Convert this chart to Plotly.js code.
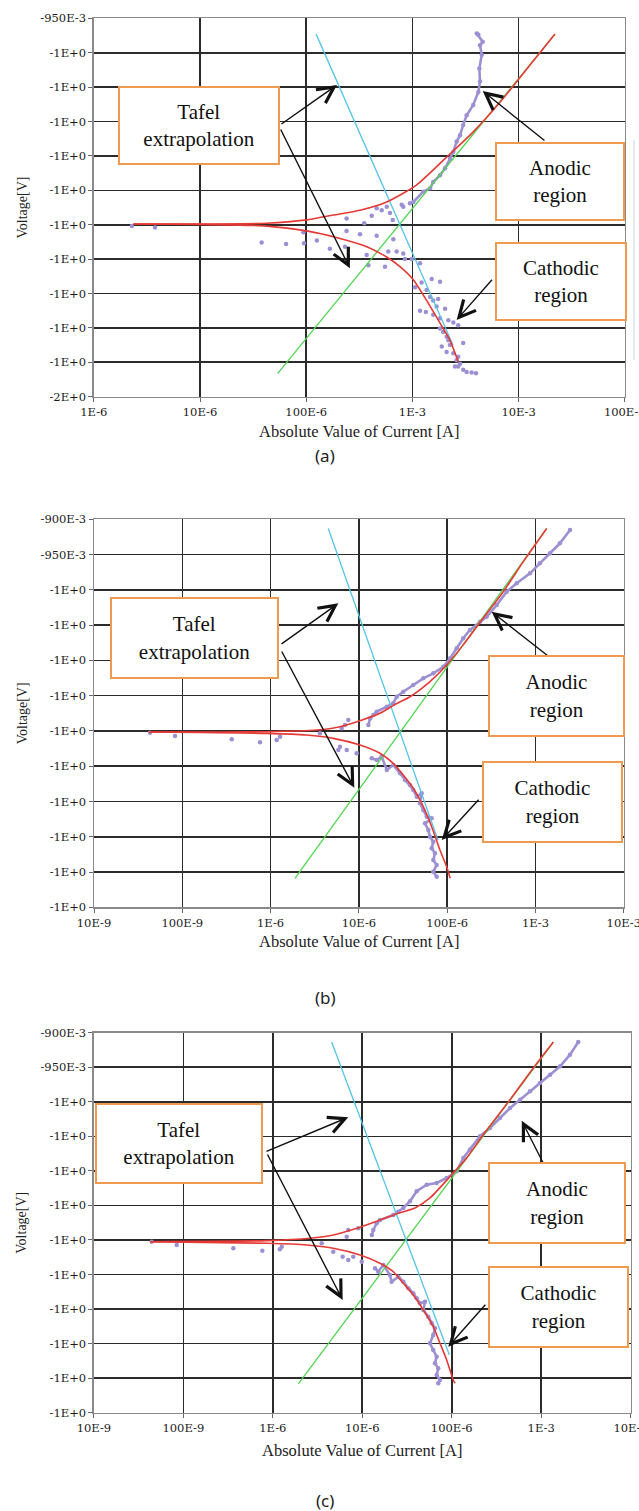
<!DOCTYPE html>
<html><head><meta charset="utf-8">
<script src="https://cdn.plot.ly/plotly-3.0.1.min.js"></script>
<style>html,body{margin:0;padding:0;background:#fff;}#plot{width:639px;height:1511px;}</style>
</head><body><div id="plot"></div>
<script>
// ---------------- DATA (current in A, voltage in V) ----------------
// Panel (a)
const aCyanI = [1.24e-4, 2.41e-3];
const aCyanV = [-0.973, -1.425];
const aGreenI = [5.40e-5, 2.20e-2];
const aGreenV = [-1.466, -0.973];
const aRedAnodI = [2.36e-6, 1.00e-5, 4.25e-5, 1.01e-4, 1.80e-4, 3.21e-4, 5.73e-4, 1.10e-3, 2.03e-3, 3.74e-3, 6.68e-3, 1.19e-2, 2.20e-2];
const aRedAnodV = [-1.249, -1.249, -1.248, -1.243, -1.236, -1.229, -1.217, -1.192, -1.154, -1.115, -1.072, -1.024, -0.973];
const aRedCathI = [2.36e-6, 1.00e-5, 4.25e-5, 1.01e-4, 2.08e-4, 3.72e-4, 5.73e-4, 7.64e-4, 1.02e-3, 1.36e-3, 1.82e-3, 2.26e-3, 2.70e-3];
const aRedCathV = [-1.249, -1.2495, -1.252, -1.259, -1.270, -1.282, -1.297, -1.311, -1.330, -1.360, -1.393, -1.418, -1.449];
const aDotsI = [2.28e-6, 3.77e-6, 3.81e-5, 6.46e-5, 9.40e-5, 9.53e-5, 1.26e-4, 1.67e-4, 2.40e-4, 2.40e-4, 2.32e-4, 3.21e-4, 3.52e-4, 3.71e-4, 3.85e-4, 4.14e-4, 4.61e-4, 5.14e-4, 5.52e-4, 5.93e-4, 6.15e-4, 6.53e-4, 6.61e-4, 7.11e-4, 7.93e-4, 8.20e-4, 8.51e-4, 9.49e-4, 9.85e-4, 1.06e-3, 1.18e-3, 1.22e-3, 1.36e-3, 1.52e-3, 1.82e-3, 1.47e-3, 1.57e-3, 1.75e-3, 1.69e-3, 1.18e-3, 1.34e-3, 2.03e-3, 1.57e-3, 1.82e-3, 2.18e-3, 2.43e-3, 2.70e-3, 1.82e-3, 1.95e-3, 2.10e-3, 2.18e-3, 2.26e-3, 3.01e-3, 1.89e-3, 2.10e-3, 2.43e-3, 2.70e-3, 2.61e-3, 2.81e-3, 2.70e-3, 3.01e-3, 3.24e-3, 3.61e-3, 3.97e-3, 2.52e-3, 4.61e-4, 5.73e-4, 8.20e-4];
const aDotsV = [-1.252, -1.254, -1.276, -1.278, -1.261, -1.277, -1.273, -1.285, -1.241, -1.259, -1.282, -1.264, -1.248, -1.294, -1.309, -1.237, -1.266, -1.229, -1.311, -1.289, -1.233, -1.243, -1.271, -1.289, -1.221, -1.292, -1.300, -1.219, -1.300, -1.341, -1.306, -1.334, -1.345, -1.329, -1.333, -1.355, -1.360, -1.358, -1.369, -1.375, -1.377, -1.372, -1.381, -1.386, -1.389, -1.392, -1.396, -1.401, -1.406, -1.413, -1.418, -1.425, -1.422, -1.427, -1.435, -1.437, -1.442, -1.447, -1.452, -1.456, -1.461, -1.464, -1.465, -1.466, -1.456, -1.226, -1.224, -1.224];
const aDenseI = [1.02e-3, 1.27e-3, 1.47e-3, 1.57e-3, 1.82e-3, 2.03e-3, 2.26e-3, 2.43e-3, 2.61e-3, 2.81e-3, 3.01e-3, 3.24e-3, 3.74e-3, 4.18e-3, 4.33e-3, 4.27e-3, 4.50e-3, 4.33e-3, 4.59e-3, 4.18e-3, 4.04e-3];
const aDenseV = [-1.217, -1.202, -1.197, -1.188, -1.178, -1.168, -1.154, -1.144, -1.129, -1.120, -1.105, -1.091, -1.076, -1.057, -1.042, -1.023, -1.003, -0.989, -0.984, -0.974, -0.972];

// Panel (b)
const bCyanI = [4.50e-6, 7.87e-5];
const bCyanV = [-0.913, -1.355];
const bGreenI = [1.89e-6, 1.34e-3];
const bGreenV = [-1.409, -0.913];
const bRedAnodI = [4.20e-8, 9.04e-7, 3.33e-6, 6.11e-6, 1.03e-5, 1.73e-5, 2.56e-5, 3.79e-5, 6.38e-5, 9.87e-5, 1.52e-4, 2.56e-4, 4.32e-4, 7.28e-4, 1.34e-3];
const bRedAnodV = [-1.2015, -1.2011, -1.1987, -1.194, -1.1855, -1.175, -1.1625, -1.1515, -1.130, -1.1065, -1.078, -1.040, -1.0026, -0.960, -0.913];
const bRedCathI = [4.20e-8, 9.04e-7, 2.56e-6, 5.13e-6, 1.03e-5, 1.73e-5, 2.45e-5, 3.18e-5, 4.13e-5, 5.36e-5, 6.67e-5, 8.28e-5, 9.87e-5, 1.08e-4];
const bRedCathV = [-1.2015, -1.2034, -1.2058, -1.2105, -1.220, -1.2317, -1.2459, -1.2625, -1.2813, -1.3074, -1.3358, -1.3688, -1.3925, -1.4089];
const bDotsI = [4.31e-8, 8.27e-8, 3.63e-7, 7.59e-7, 1.17e-6, 1.28e-6, 3.62e-6, 6.38e-6, 6.96e-6, 7.59e-6, 9.44e-6, 6.11e-6, 7.28e-6, 5.85e-6];
const bDotsV = [-1.2025, -1.2072, -1.2119, -1.2161, -1.2129, -1.2082, -1.2034, -1.1963, -1.1916, -1.1845, -1.2317, -1.2224, -1.227, -1.227];
const bAnodI = [1.28e-5, 1.34e-5, 1.46e-5, 1.59e-5, 2.07e-5, 2.45e-5, 2.68e-5, 3.18e-5, 4.13e-5, 5.36e-5, 6.96e-5, 9.04e-5, 1.08e-4, 1.28e-4, 1.52e-4, 1.81e-4, 2.35e-4, 2.80e-4, 3.64e-4, 4.72e-4, 6.12e-4, 8.67e-4, 1.12e-3, 1.46e-3, 1.89e-3, 2.46e-3];
const bAnodV = [-1.1916, -1.1821, -1.1774, -1.1727, -1.1657, -1.1608, -1.1515, -1.1444, -1.1349, -1.1254, -1.1183, -1.109, -1.097, -1.0829, -1.0687, -1.0569, -1.0452, -1.0381, -1.0215, -1.0026, -0.9907, -0.9766, -0.9624, -0.9482, -0.934, -0.9152];
const bCathI = [1.40e-5, 1.59e-5, 1.81e-5, 2.07e-5, 2.45e-5, 2.92e-5, 3.33e-5, 3.79e-5, 4.13e-5, 4.52e-5, 5.14e-5, 4.92e-5, 5.36e-5, 5.86e-5, 6.67e-5, 5.61e-5, 6.11e-5, 6.38e-5, 6.96e-5, 6.67e-5, 7.27e-5, 6.96e-5, 7.60e-5, 6.96e-5, 7.60e-5];
const bCathV = [-1.2388, -1.2412, -1.2365, -1.2554, -1.2483, -1.2601, -1.2696, -1.2767, -1.2837, -1.2932, -1.2884, -1.3026, -1.3121, -1.3216, -1.3239, -1.331, -1.3405, -1.35, -1.357, -1.3664, -1.3735, -1.383, -1.3901, -1.3996, -1.4066];

// Panel (c)
const cCyanI = [4.55e-6, 9.42e-5];
const cCyanV = [-0.9135, -1.3664];
const cGreenI = [1.93e-6, 1.37e-3];
const cGreenV = [-1.4084, -0.9135];
const cRedAnodI = [4.24e-8, 8.55e-7, 2.61e-6, 4.74e-6, 8.67e-6, 1.58e-5, 2.64e-5, 3.89e-5, 5.72e-5, 1.00e-4, 1.47e-4, 2.25e-4, 4.49e-4, 8.17e-4, 1.37e-3];
const cRedAnodV = [-1.2025, -1.201, -1.1975, -1.1928, -1.1831, -1.1711, -1.1605, -1.1537, -1.1392, -1.1055, -1.0813, -1.0476, -0.997, -0.9511, -0.9135];
const cRedCathI = [4.24e-8, 8.55e-7, 2.39e-6, 4.74e-6, 9.44e-6, 1.58e-5, 2.22e-5, 2.88e-5, 3.72e-5, 4.82e-5, 6.22e-5, 7.40e-5, 8.79e-5, 1.04e-4, 1.09e-4];
const cRedCathV = [-1.2025, -1.2048, -1.2072, -1.212, -1.2217, -1.2337, -1.2459, -1.2627, -1.2796, -1.3013, -1.3255, -1.3495, -1.3737, -1.4026, -1.4074];
const cDotsI = [4.43e-8, 8.43e-8, 3.62e-7, 7.64e-7, 1.20e-6, 1.26e-6, 3.52e-6, 4.74e-6, 6.04e-6, 6.98e-6, 7.94e-6, 9.86e-6, 6.70e-6, 6.98e-6, 9.04e-6];
const cDotsV = [-1.2025, -1.2072, -1.212, -1.2155, -1.2135, -1.2097, -1.2048, -1.2169, -1.2242, -1.2289, -1.2242, -1.2314, -1.1952, -1.1855, -1.1831];
const cAnodI = [1.28e-5, 1.33e-5, 1.45e-5, 1.58e-5, 2.22e-5, 2.53e-5, 2.88e-5, 3.42e-5, 4.06e-5, 5.26e-5, 6.79e-5, 8.79e-5, 1.14e-4, 1.35e-4, 1.60e-4, 2.07e-4, 2.68e-4, 3.47e-4, 4.49e-4, 5.81e-4, 7.50e-4, 9.70e-4, 1.26e-3, 1.63e-3, 2.10e-3, 2.60e-3];
const cAnodV = [-1.1928, -1.1855, -1.1758, -1.1711, -1.1638, -1.159, -1.1537, -1.144, -1.1295, -1.12, -1.1175, -1.1103, -1.1006, -1.0813, -1.0693, -1.0499, -1.0379, -1.0234, -1.009, -0.997, -0.9848, -0.9728, -0.9608, -0.9486, -0.9318, -0.9135];
const cCathI = [1.39e-5, 1.51e-5, 1.72e-5, 2.04e-5, 2.13e-5, 2.53e-5, 2.88e-5, 3.27e-5, 3.72e-5, 4.06e-5, 4.42e-5, 5.03e-5, 4.82e-5, 5.47e-5, 5.97e-5, 6.50e-5, 6.22e-5, 5.72e-5, 6.22e-5, 6.79e-5, 6.50e-5, 7.08e-5, 6.79e-5, 7.40e-5, 7.08e-5];
const cCathV = [-1.241, -1.2459, -1.2362, -1.2507, -1.2604, -1.2531, -1.2604, -1.2699, -1.2771, -1.2844, -1.2916, -1.2893, -1.3013, -1.311, -1.3206, -1.3278, -1.3375, -1.3495, -1.3592, -1.3689, -1.3784, -1.3857, -1.3954, -1.4026, -1.4074];

// Tick values / labels
const aXTickVals = [1e-6, 1e-5, 1e-4, 1e-3, 1e-2, 1e-1];
const aXTickText = ['1E-6', '10E-6', '100E-6', '1E-3', '10E-3', '100E-3'];
const bcXTickVals = [1e-8, 1e-7, 1e-6, 1e-5, 1e-4, 1e-3, 1e-2];
const bcXTickText = ['10E-9', '100E-9', '1E-6', '10E-6', '100E-6', '1E-3', '10E-3'];
const aYTickVals = [-0.95, -1.0, -1.05, -1.1, -1.15, -1.2, -1.25, -1.3, -1.35, -1.4, -1.45, -1.5];
const aYTickText = ['-950E-3', '-1E+0', '-1E+0', '-1E+0', '-1E+0', '-1E+0', '-1E+0', '-1E+0', '-1E+0', '-1E+0', '-1E+0', '-2E+0'];
const bcYTickVals = [-0.9, -0.95, -1.0, -1.05, -1.1, -1.15, -1.2, -1.25, -1.3, -1.35, -1.4, -1.45];
const bcYTickText = ['-900E-3', '-950E-3', '-1E+0', '-1E+0', '-1E+0', '-1E+0', '-1E+0', '-1E+0', '-1E+0', '-1E+0', '-1E+0', '-1E+0'];

// ---------------- LAYOUT / STYLE ----------------
const W = 639, H = 1511;
const SERIF = "'Liberation Serif', 'Times New Roman', serif";
const TICKSERIF = "'DejaVu Serif', serif";
const C = {cyan: '#55c4e6', green: '#52d452', red: '#e63a36', purple: '#9d90d2', grid: '#2b2b2b', box: '#ee9a50'};

const geom = {
  a: {xd: [93.8, 624.8], yd: [18.3, 396.7], xr: [-6, -1], yr: [-1.5, -0.95], sx: 'x', sy: 'y', xt: [aXTickVals, aXTickText], yt: [aYTickVals, aYTickText], xtitleY: 432, capY: 455},
  b: {xd: [94, 623.8], yd: [519.3, 907.3], xr: [-8, -2], yr: [-1.45, -0.9], sx: 'x2', sy: 'y2', xt: [bcXTickVals, bcXTickText], yt: [bcYTickVals, bcYTickText], xtitleY: 941, capY: 997},
  c: {xd: [93.9, 630.6], yd: [1032.7, 1412.7], xr: [-8, -2], yr: [-1.45, -0.9], sx: 'x3', sy: 'y3', xt: [bcXTickVals, bcXTickText], yt: [bcYTickVals, bcYTickText], xtitleY: 1450, capY: 1500}
};

const series = {
  a: {cyan: [aCyanI, aCyanV], green: [aGreenI, aGreenV], redA: [aRedAnodI, aRedAnodV], redC: [aRedCathI, aRedCathV], dots: [aDotsI, aDotsV], dense: [[aDenseI, aDenseV]]},
  b: {cyan: [bCyanI, bCyanV], green: [bGreenI, bGreenV], redA: [bRedAnodI, bRedAnodV], redC: [bRedCathI, bRedCathV], dots: [bDotsI, bDotsV], dense: [[bAnodI, bAnodV], [bCathI, bCathV]]},
  c: {cyan: [cCyanI, cCyanV], green: [cGreenI, cGreenV], redA: [cRedAnodI, cRedAnodV], redC: [cRedCathI, cRedCathV], dots: [cDotsI, cDotsV], dense: [[cAnodI, cAnodV], [cCathI, cCathV]]}
};

// annotation boxes (pixel centre, width, height)
const boxes = {
  a: [['Tafel<br>extrapolation', 199, 125.5, 162, 79], ['Anodic<br>region', 560, 182, 130, 79], ['Cathodic<br>region', 561, 282, 132, 79]],
  b: [['Tafel<br>extrapolation', 194.5, 637.5, 169, 82], ['Anodic<br>region', 556.7, 696.3, 137, 82], ['Cathodic<br>region', 552.2, 801.5, 141, 82]],
  c: [['Tafel<br>extrapolation', 178.6, 1143.3, 168, 81], ['Anodic<br>region', 557, 1202.8, 138, 82], ['Cathodic<br>region', 558.8, 1307.2, 141, 82]]
};
// arrows: [tail current, tail voltage, head current, head voltage]
const arrows = {
  a: [[5.66e-5, -1.1051, 1.95e-4, -1.0469], [5.66e-5, -1.1094, 2.58e-4, -1.3134], [1.81e-2, -1.1294, 4.59e-3, -1.0557], [5.78e-3, -1.3279, 2.61e-3, -1.3885]],
  b: [[1.28e-6, -1.0782, 5.85e-6, -1.0191], [1.31e-6, -1.0853, 8.87e-6, -1.2806], [1.98e-3, -1.109, 3.19e-4, -1.031], [2.35e-4, -1.2955, 8.67e-5, -1.3546]],
  c: [[8.18e-7, -1.0727, 6.98e-6, -1.0224], [8.55e-7, -1.0741, 6.04e-6, -1.2868], [1.15e-3, -1.0983, 6.07e-4, -1.0274], [2.46e-4, -1.2916, 9.16e-5, -1.3544]]
};

const traces = [];
const layout = {
  width: W, height: H, margin: {l: 0, r: 0, t: 0, b: 0},
  paper_bgcolor: '#fff', plot_bgcolor: '#fff', showlegend: false,
  annotations: [], shapes: []
};

['a', 'b', 'c'].forEach(function (k, idx) {
  const g = geom[k], s = series[k];
  const axN = idx === 0 ? '' : String(idx + 1);
  const common = {xaxis: g.sx, yaxis: g.sy, hoverinfo: 'skip'};
  traces.push(Object.assign({type: 'scatter', mode: 'markers', x: s.dots[0], y: s.dots[1], marker: {color: C.purple, size: 4.5}}, common));
  s.dense.forEach(function (d) {
    traces.push(Object.assign({type: 'scatter', mode: 'lines+markers', x: d[0], y: d[1], line: {color: C.purple, width: 2.6}, marker: {color: C.purple, size: 4.5}}, common));
  });
  traces.push(Object.assign({type: 'scatter', mode: 'lines', x: s.green[0], y: s.green[1], line: {color: C.green, width: 1.3}}, common));
  traces.push(Object.assign({type: 'scatter', mode: 'lines', x: s.cyan[0], y: s.cyan[1], line: {color: C.cyan, width: 1.3}}, common));
  traces.push(Object.assign({type: 'scatter', mode: 'lines', x: s.redA[0], y: s.redA[1], line: {color: C.red, width: 1.6, shape: 'spline', smoothing: 0.6}}, common));
  traces.push(Object.assign({type: 'scatter', mode: 'lines', x: s.redC[0], y: s.redC[1], line: {color: C.red, width: 1.6, shape: 'spline', smoothing: 0.6}}, common));

  const tickFont = {family: TICKSERIF, size: 11.5, color: '#1a1a1a'};
  layout['xaxis' + axN] = {
    domain: [g.xd[0] / W, g.xd[1] / W], anchor: g.sy, type: 'log', range: g.xr,
    tickmode: 'array', tickvals: g.xt[0], ticktext: g.xt[1], tickfont: tickFont, ticklabeloverflow: 'allow',
    ticks: 'outside', ticklen: 4, tickcolor: '#666', showgrid: true, gridcolor: C.grid, gridwidth: 1.6,
    showline: true, linecolor: '#8a8a8a', linewidth: 1.5, mirror: true, zeroline: false, fixedrange: true
  };
  layout['yaxis' + axN] = {
    domain: [1 - g.yd[1] / H, 1 - g.yd[0] / H], anchor: g.sx, range: g.yr,
    tickmode: 'array', tickvals: g.yt[0], ticktext: g.yt[1], tickfont: tickFont, ticklabeloverflow: 'allow',
    ticks: 'outside', ticklen: 4, tickcolor: '#666', showgrid: true, gridcolor: C.grid, gridwidth: 1.6,
    showline: true, linecolor: '#8a8a8a', linewidth: 1.5, mirror: true, zeroline: false, fixedrange: true
  };

  // axis titles
  layout.annotations.push({xref: 'paper', yref: 'paper', x: 22 / W, y: 1 - (g.yd[0] + g.yd[1]) / 2 / H, text: 'Voltage[V]', textangle: -90, showarrow: false, xanchor: 'center', yanchor: 'middle', font: {family: SERIF, size: 14, color: '#222'}});
  layout.annotations.push({xref: 'paper', yref: 'paper', x: (g.xd[0] + g.xd[1]) / 2 / W, y: 1 - g.xtitleY / H, text: 'Absolute Value of Current [A]', showarrow: false, xanchor: 'center', yanchor: 'middle', font: {family: SERIF, size: 16.5, color: '#222'}});
  layout.annotations.push({xref: 'paper', yref: 'paper', x: 325 / W, y: 1 - g.capY / H, text: '(' + k + ')', showarrow: false, xanchor: 'center', yanchor: 'middle', font: {family: "'Noto Sans', sans-serif", size: 17, color: '#222'}});

  // arrows (anchored in data coordinates of the panel)
  arrows[k].forEach(function (a) {
    layout.annotations.push({xref: g.sx, yref: g.sy, axref: g.sx, ayref: g.sy,
      x: Math.log10(a[2]), y: a[3], ax: Math.log10(a[0]), ay: a[1], text: '',
      showarrow: true, arrowhead: 5, arrowsize: 2.3, arrowwidth: 1.4, arrowcolor: '#111', standoff: 0, startstandoff: 0});
  });
  // boxes
  boxes[k].forEach(function (b) {
    layout.annotations.push({xref: 'paper', yref: 'paper', x: b[1] / W, y: 1 - b[2] / H, xanchor: 'center', yanchor: 'middle',
      text: b[0], showarrow: false, align: 'center', font: {family: SERIF, size: 21, color: '#111'},
      bgcolor: '#ffffff', bordercolor: C.box, borderwidth: 2, borderpad: 0, width: b[3] - 4, height: b[4] - 4});
  });
});

// faint border line at right edge of panel (a) (cropping artefact in the source figure)
layout.shapes.push({type: 'line', xref: 'paper', yref: 'paper', x0: 634 / W, x1: 634 / W, y0: 1 - 140 / H, y1: 1 - 360 / H, line: {color: '#c9d5e2', width: 1}});

Plotly.newPlot('plot', traces, layout, {staticPlot: true, displayModeBar: false});
</script>
</body></html>
